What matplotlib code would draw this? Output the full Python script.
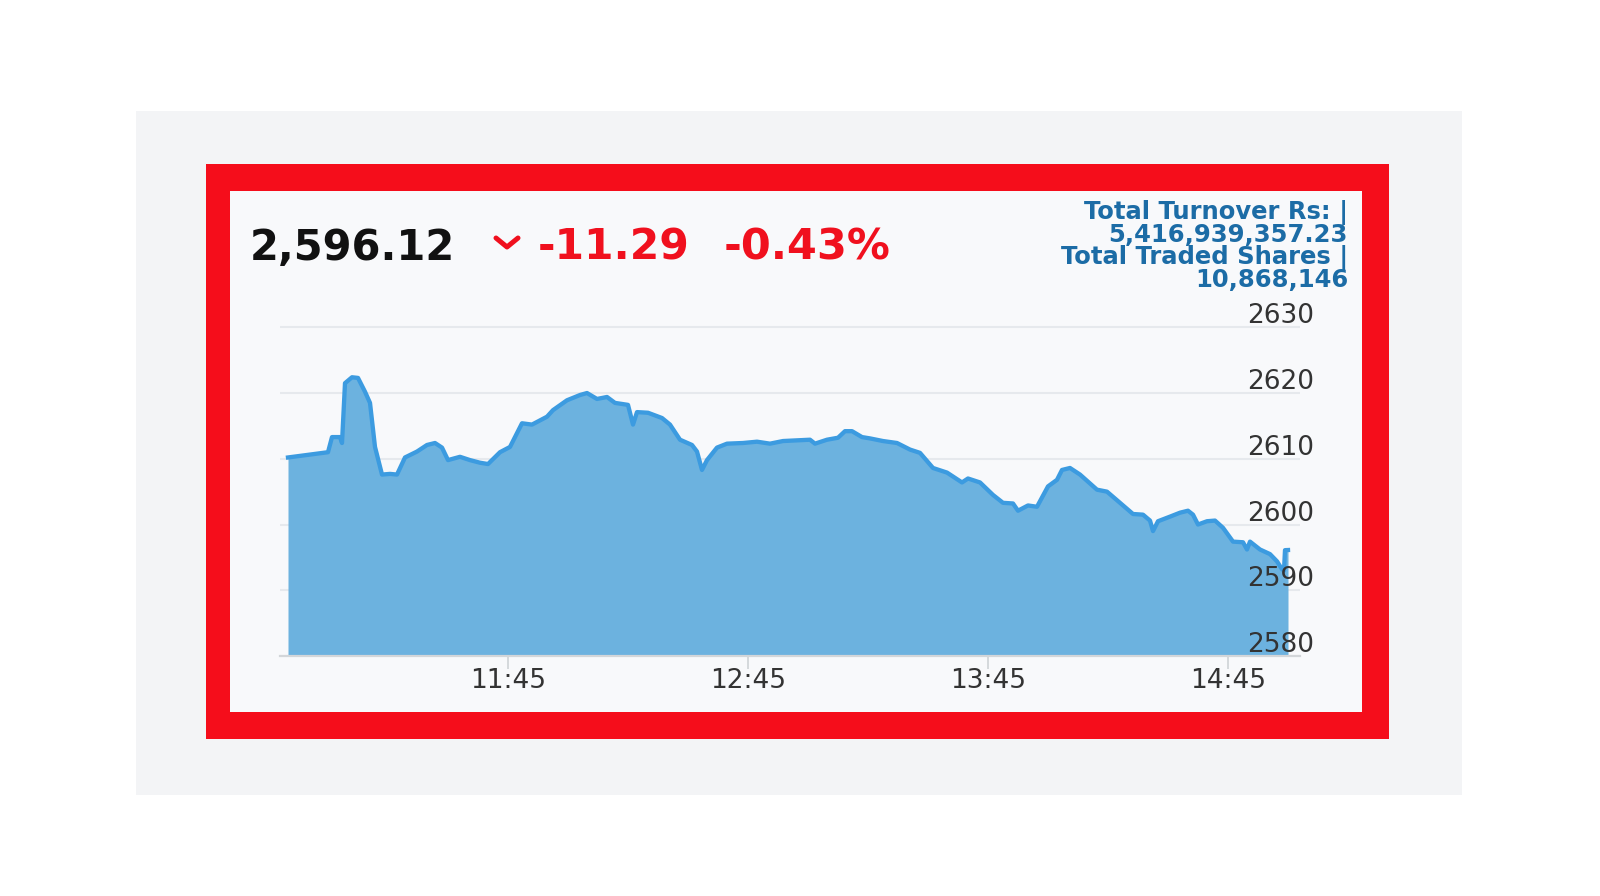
import pandas as pd
import matplotlib
matplotlib.use("Agg")
import matplotlib.pyplot as plt
import matplotlib.dates as mdates
from matplotlib.patches import Rectangle
from matplotlib.lines import Line2D
import matplotlib.transforms as mtransforms

# intraday index values
times = ["10:50:00", "11:00:00", "11:01:00", "11:03:00", "11:03:30", "11:04:15",
         "11:06:00", "11:07:30", "11:09:15", "11:10:30", "11:11:45", "11:13:30",
         "11:15:30", "11:17:15", "11:19:15", "11:22:15", "11:24:45", "11:26:45",
         "11:28:30", "11:30:00", "11:33:00", "11:35:30", "11:38:00", "11:40:00",
         "11:43:00", "11:45:30", "11:48:30", "11:51:00", "11:54:45", "11:56:15",
         "11:59:45", "12:03:00", "12:04:45", "12:07:15", "12:09:45", "12:11:45",
         "12:15:00", "12:16:15", "12:17:15", "12:20:00", "12:23:30", "12:25:30",
         "12:28:00", "12:31:00", "12:32:15", "12:33:30", "12:34:45", "12:37:15",
         "12:39:45", "12:43:45", "12:47:15", "12:50:30", "12:53:45", "13:00:30",
         "13:01:45", "13:04:45", "13:07:30", "13:09:15", "13:11:00", "13:13:30",
         "13:15:30", "13:18:45", "13:22:15", "13:25:30", "13:28:00", "13:31:15",
         "13:34:45", "13:38:30", "13:40:00", "13:43:00", "13:46:15", "13:48:45",
         "13:51:15", "13:52:30", "13:55:00", "13:57:15", "14:00:00", "14:02:15",
         "14:03:30", "14:05:30", "14:08:00", "14:12:15", "14:14:45", "14:18:00",
         "14:21:15", "14:23:45", "14:25:30", "14:26:15", "14:27:30", "14:30:30",
         "14:33:00", "14:35:00", "14:36:15", "14:37:30", "14:39:45", "14:41:45",
         "14:43:45", "14:46:15", "14:48:45", "14:49:45", "14:50:30", "14:53:00",
         "14:55:30", "14:57:15", "14:58:30", "14:59:00", "14:59:15", "15:00:00"]
prices = [2610.2, 2611.0, 2613.3, 2613.3, 2612.4, 2621.5,
          2622.4, 2622.3, 2620.2, 2618.5, 2611.8, 2607.6,
          2607.7, 2607.6, 2610.2, 2611.1, 2612.1, 2612.4,
          2611.7, 2609.8, 2610.3, 2609.8, 2609.4, 2609.2,
          2611.0, 2611.8, 2615.4, 2615.2, 2616.4, 2617.4,
          2618.9, 2619.7, 2620.0, 2619.1, 2619.4, 2618.5,
          2618.2, 2615.2, 2617.1, 2617.0, 2616.2, 2615.2,
          2612.9, 2612.1, 2611.1, 2608.3, 2609.8, 2611.7,
          2612.3, 2612.4, 2612.6, 2612.3, 2612.7, 2612.9,
          2612.3, 2612.9, 2613.2, 2614.2, 2614.2, 2613.3,
          2613.1, 2612.7, 2612.4, 2611.4, 2610.9, 2608.6,
          2607.9, 2606.4, 2607.0, 2606.4, 2604.5, 2603.3,
          2603.2, 2602.1, 2602.9, 2602.7, 2605.8, 2606.8,
          2608.3, 2608.6, 2607.6, 2605.3, 2605.0, 2603.3,
          2601.6, 2601.5, 2600.6, 2599.0, 2600.5, 2601.2,
          2601.8, 2602.1, 2601.5, 2600.0, 2600.5, 2600.6,
          2599.5, 2597.4, 2597.3, 2596.2, 2597.4, 2596.2,
          2595.5, 2594.4, 2593.2, 2593.0, 2596.1, 2596.12]

y_ticks = [2580, 2590, 2600, 2610, 2620, 2630]
x_ticks = ["11:45", "12:45", "13:45", "14:45"]

last_value = "2,596.12"
change = "-11.29"
change_pct = "-0.43%"
info_lines = ["Total Turnover Rs: |", "5,416,939,357.23",
              "Total Traded Shares |", "10,868,146"]

W, H = 1600, 896
day = "2019-07-24 "
t = pd.to_datetime([day + s for s in times])


def fx(x):
    return x / W


def fy(y):
    return 1 - y / H


fig = plt.figure(figsize=(16, 8.96), dpi=100)
fig.patch.set_facecolor("white")

# background panels: grey card, red frame, white inside
for (x0, y0, x1, y1), c in [((136, 111, 1462, 795), "#f3f4f6"),
                            ((206, 164, 1389, 739), "#f50d1b"),
                            ((230, 191, 1362, 712), "#f8f9fb")]:
    fig.add_artist(Rectangle((fx(x0), fy(y1)), fx(x1) - fx(x0), fy(y0) - fy(y1),
                             transform=fig.transFigure, facecolor=c,
                             edgecolor="none", zorder=-5))

# chart axes
ax = fig.add_axes([fx(280), fy(656), fx(1300) - fx(280), fy(301) - fy(656)])
ax.patch.set_alpha(0)
ax.fill_between(t, prices, 2580, color="#6cb2df", lw=0, zorder=2)
ax.plot(t, prices, color="#3c9be0", lw=3.1, solid_joinstyle="round", zorder=3)

ax.set_ylim(2580, 2634)
ax.set_xlim(pd.Timestamp(day + "10:48"), pd.Timestamp(day + "15:03"))

ax.set_yticks(y_ticks)
ax.yaxis.set_ticks_position("none")
ax.set_yticklabels([])
ax.grid(axis="y", color="#8a98a8", alpha=0.16, lw=1.5, zorder=4)
ax.grid(axis="x", visible=False)

ax.set_xticks(pd.to_datetime([day + s for s in x_ticks]))
ax.xaxis.set_major_formatter(mdates.DateFormatter("%H:%M"))
ax.tick_params(axis="x", direction="out", length=9, width=1.2, color="#cfd3d6",
               labelsize=19, labelcolor="#333333", pad=0)
for lab in ax.get_xticklabels():
    lab.set_fontfamily("DejaVu Sans")

for s in ["top", "right", "left"]:
    ax.spines[s].set_visible(False)
ax.spines["bottom"].set_color("#d3d6d9")
ax.spines["bottom"].set_linewidth(1.6)
ax.spines["bottom"].set_zorder(5)

# y labels sit just above their grid lines, right aligned
trans = mtransforms.blended_transform_factory(ax.transAxes, ax.transData)
trans = trans + mtransforms.ScaledTranslation(0, 4 / 100, fig.dpi_scale_trans)
for v in y_ticks:
    ax.text(1.0137, v, str(v), transform=trans, ha="right", va="baseline",
            fontsize=19, color="#333333", family="DejaVu Sans", zorder=6, clip_on=False)

# header
fig.text(fx(250), fy(260), last_value, fontsize=30, fontweight="bold",
         color="#111111", family="DejaVu Sans", va="baseline", ha="left")
fig.add_artist(Line2D([fx(496), fx(507), fx(518)], [fy(238), fy(247), fy(238)],
                      transform=fig.transFigure, color="#f0101e", lw=3.6,
                      solid_capstyle="round", solid_joinstyle="round"))
fig.text(fx(538), fy(260), change, fontsize=30.5, fontweight="bold",
         color="#f0101e", family="DejaVu Sans", va="baseline", ha="left")
fig.text(fx(724), fy(260), change_pct, fontsize=31, fontweight="bold",
         color="#f0101e", family="DejaVu Sans", va="baseline", ha="left")

# turnover block
for line, yb in zip(info_lines, [219, 242, 264, 287]):
    fig.text(fx(1348), fy(yb), line, fontsize=17.5, fontweight="bold",
             color="#1c6ca6", family="DejaVu Sans", va="baseline", ha="right")

plt.savefig("out.png", dpi=100)
